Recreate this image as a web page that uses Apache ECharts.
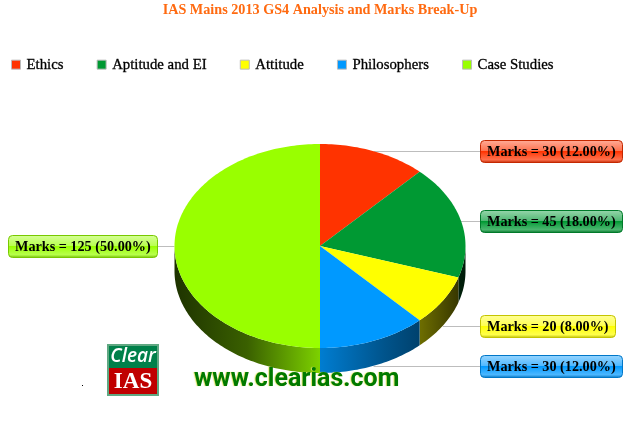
<!DOCTYPE html>
<html><head><meta charset="utf-8">
<style>html,body{margin:0;padding:0;background:#fff}#c{width:640px;height:423px}</style>
<script src="https://cdn.jsdelivr.net/npm/echarts@6/dist/echarts.min.js"></script>
</head><body><div id="c"></div>
<script>
const categories = ['Ethics','Aptitude and EI','Attitude','Philosophers','Case Studies'];
const marks = [30,45,20,30,125];
const colors = ['#ff3300','#009933','#ffff00','#0099ff','#99ff00'];
const edgeColors = ['#c42800','#007a2a','#c4c400','#0077c8','#78c800'];

const CX=320, CY=246, RX=145.5, RY=102, DEPTH=25;
const FONT='bold 14.2px "Liberation Serif"';
const total = marks.reduce((a,b)=>a+b,0);
const ctx = document.createElement('canvas').getContext('2d');

function pt(a,dy){return [CX+RX*Math.sin(a), CY-RY*Math.cos(a)+(dy||0)];}
function arc(a0,a1,dy){
  const n=Math.max(2,Math.ceil(Math.abs(a1-a0)/0.02)),out=[];
  for(let i=0;i<=n;i++) out.push(pt(a0+(a1-a0)*i/n,dy));
  return out;
}
function mix(hex,f){
  const v=[1,3,5].map(i=>parseInt(hex.substr(i,2),16)*f|0);
  return 'rgb('+v.join(',')+')';
}
function lighten(hex,f){
  const v=[1,3,5].map(i=>{const c=parseInt(hex.substr(i,2),16);return c+(255-c)*f|0;});
  return 'rgb('+v.join(',')+')';
}
function wallFill(hex){
  const shades=[[0,.2],[.25,.38],[.5,.82],[.72,.55],[.85,.42],[1,.18]];
  return new echarts.graphic.LinearGradient(CX-RX,0,CX+RX,0,
    shades.map(s=>({offset:s[0],color:mix(hex,s[1])})),true);
}
function renderSlice(idx){
  return function(params,api){
    const before=marks.slice(0,idx).reduce((a,b)=>a+b,0);
    const value=api.value(0);
    const a0=before/total*2*Math.PI, a1=(before+value)/total*2*Math.PI, mid=(a0+a1)/2;
    const children=[];
    const w0=Math.max(a0,Math.PI/2), w1=Math.min(a1,Math.PI*1.5);
    if(w1>w0){
      children.push({type:'polygon',z2:2,
        shape:{points:arc(w0,w1,0).concat(arc(w1,w0,DEPTH))},
        style:{fill:wallFill(colors[idx])}});
    }
    children.push({type:'polygon',z2:3,
      shape:{points:[[CX,CY]].concat(arc(a0,a1,0))},
      style:{fill:colors[idx]}});
    const front=Math.cos(mid)<-0.2;
    const p=pt(mid,front?DEPTH:0);
    const right=Math.sin(mid)>=0;
    const text='Marks = '+value+' ('+(value/total*100).toFixed(2)+'%)';
    ctx.font=FONT;
    const w=Math.round(ctx.measureText(text).width)+13, h=22;
    const bx=right?480:8, by=Math.round(p[1])-11;
    children.push({type:'line',z2:1,
      shape:{x1:p[0],y1:Math.round(p[1])+.5,x2:right?bx:bx+w,y2:Math.round(p[1])+.5},
      style:{stroke:'#bdbdbd',lineWidth:1}});
    children.push({type:'rect',z2:5,
      shape:{x:bx+.5,y:by+.5,width:w,height:h,r:4},
      style:{stroke:edgeColors[idx],lineWidth:1,
        fill:new echarts.graphic.LinearGradient(0,0,0,1,[
          {offset:0,color:lighten(colors[idx],.6)},
          {offset:.46,color:lighten(colors[idx],.32)},
          {offset:.5,color:colors[idx]},
          {offset:.62,color:lighten(colors[idx],.12)},
          {offset:.86,color:lighten(colors[idx],.3)},
          {offset:1,color:mix(colors[idx],.72)}])}});
    children.push({type:'text',z2:6,
      style:{x:bx+7,y:by+h/2+1,text:text,font:FONT,fill:'#000',verticalAlign:'middle',align:'left'}});
    return {type:'group',children:children};
  };
}

const chart=echarts.init(document.getElementById('c'),null,{renderer:'canvas'});
chart.setOption({
  animation:false,
  backgroundColor:'#fff',
  title:{text:'IAS Mains 2013 GS4 Analysis and Marks Break-Up',left:'center',top:-2,
    textStyle:{fontFamily:'Liberation Serif',fontWeight:'bold',fontSize:14.2,color:'#ff6a10'}},
  legend:{left:11,top:57,padding:0,icon:'rect',itemWidth:9,itemHeight:9,itemGap:33,
    itemStyle:{borderColor:'#bbbbbb',borderWidth:1},
    selectedMode:false,
    textStyle:{fontFamily:'Liberation Serif',fontSize:14.8,color:'#000',padding:[0,0,0,1],
      textBorderColor:'#000',textBorderWidth:.3},
    data:categories},
  series:categories.map((name,i)=>({
    type:'custom',name:name,coordinateSystem:'none',
    itemStyle:{color:colors[i]},
    data:[[marks[i]]],
    renderItem:renderSlice(i),silent:true
  })),
  graphic:[
    {type:'rect',z:10,shape:{x:107,y:344,width:52,height:52},style:{fill:'#5fa882'}},
    {type:'rect',z:11,shape:{x:109,y:346,width:48,height:22},style:{fill:'#00804a'}},
    {type:'rect',z:11,shape:{x:109,y:368,width:48,height:26},style:{fill:'#c00000'}},
    {type:'text',z:12,style:{x:133,y:357,text:'Clear',align:'center',verticalAlign:'middle',
      font:'italic 600 19px "Open Sans"',fill:'#fff'}},
    {type:'text',z:12,style:{x:133,y:382,text:'IAS',align:'center',verticalAlign:'middle',
      font:'bold 23px "Liberation Serif"',fill:'#fff'}},
    {type:'text',z:12,style:{x:194,y:380,text:'www.clearias.com',align:'left',verticalAlign:'middle',
      font:'bold 25px Roboto',fill:'#007a00',textShadowColor:'#e6e66a',textShadowBlur:1,textShadowOffsetX:-1}},
    {type:'rect',z:12,shape:{x:82,y:385,width:1,height:1},style:{fill:'#000'}}
  ]
});
</script></body></html>
